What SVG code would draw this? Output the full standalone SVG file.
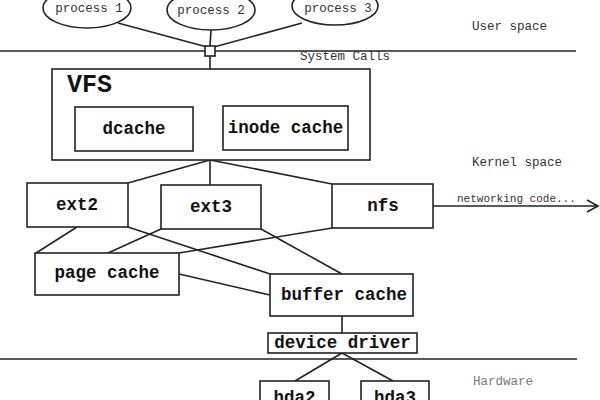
<svg xmlns="http://www.w3.org/2000/svg" width="600" height="400" viewBox="0 0 600 400">
<style>
  .box { fill: #fff; stroke: #222; stroke-width: 1.6; }
  .ell { fill: #fff; stroke: #222; stroke-width: 1.6; }
  .ln { stroke: #222; stroke-width: 1.6; fill: none; }
  .lbl { font-family: "Liberation Mono", "Courier New", monospace; font-weight: bold; font-size: 17.5px; fill: #111; text-anchor: middle; }
  .sm { font-family: "Liberation Mono", "Courier New", monospace; font-size: 12.5px; fill: #333; }
  .pl { font-family: "Liberation Mono", "Courier New", monospace; font-size: 12.5px; fill: #333; text-anchor: middle; }
</style>
<defs>
  <marker id="open" markerWidth="14" markerHeight="14" refX="12" refY="7" orient="auto" markerUnits="userSpaceOnUse">
    <path d="M1,1 L12,7 L1,13" fill="none" stroke="#222" stroke-width="1.6"/>
  </marker>
</defs>
<rect width="600" height="400" fill="#fff"/>

<!-- layer lines and labels -->
<line class="ln" x1="0" y1="51" x2="576" y2="51"/>
<line class="ln" x1="0" y1="359" x2="577" y2="359"/>
<text class="sm" x="472" y="30">User space</text>
<text class="sm" x="300" y="60">System Calls</text>
<text class="sm" x="472" y="166">Kernel space</text>
<text class="sm" x="473" y="385" fill="#777" style="fill:#777">Hardware</text>

<g id="connectors">
  <line class="ln" x1="118" y1="23" x2="207" y2="47"/>
  <line class="ln" x1="211" y1="30" x2="210" y2="46"/>
  <line class="ln" x1="302" y1="23" x2="214" y2="47"/>
  <line class="ln" x1="210" y1="56" x2="210" y2="69"/>
  <line class="ln" x1="210" y1="160" x2="128" y2="183"/>
  <line class="ln" x1="210" y1="160" x2="210" y2="185"/>
  <line class="ln" x1="210" y1="160" x2="332" y2="184"/>
  <line class="ln" x1="77" y1="227" x2="36" y2="253"/>
  <line class="ln" x1="128" y1="227" x2="270" y2="274"/>
  <line class="ln" x1="161" y1="229" x2="108" y2="253"/>
  <line class="ln" x1="261" y1="229" x2="342" y2="274"/>
  <line class="ln" x1="332" y1="228" x2="179" y2="253"/>
  <line class="ln" x1="179" y1="274" x2="270" y2="295"/>
  <line class="ln" x1="342" y1="316" x2="342" y2="333"/>
  <line class="ln" x1="342" y1="353" x2="295" y2="381"/>
  <line class="ln" x1="342" y1="353" x2="393" y2="381"/>
  <line class="ln" x1="433" y1="206" x2="598" y2="206" marker-end="url(#open)"/>
  <text x="457" y="202" style="font-family:'Liberation Mono','Courier New',monospace;font-size:11px;fill:#333">networking code...</text>
</g>

<g id="process1">
  <ellipse class="ell" cx="87" cy="8" rx="44" ry="20"/>
  <text class="pl" x="89" y="12">process 1</text>
</g>
<g id="process2">
  <ellipse class="ell" cx="211" cy="10" rx="44" ry="20"/>
  <text class="pl" x="211" y="14">process 2</text>
</g>
<g id="process3">
  <ellipse class="ell" cx="335" cy="6" rx="43" ry="19"/>
  <text class="pl" x="338" y="12">process 3</text>
</g>
<g id="syscall">
  <rect class="box" x="205" y="46" width="10" height="10"/>
</g>

<g id="vfs">
  <rect class="box" x="52" y="69" width="318" height="91"/>
  <text x="67" y="92" style="font-family:'Liberation Mono','Courier New',monospace;font-weight:bold;font-size:25px;fill:#111">VFS</text>
</g>
<g id="dcache">
  <rect class="box" x="75" y="107" width="118" height="44"/>
  <text class="lbl" x="134" y="134">dcache</text>
</g>
<g id="inodecache">
  <rect class="box" x="223" y="106" width="125" height="44"/>
  <text class="lbl" x="285.5" y="133">inode cache</text>
</g>
<g id="ext2">
  <rect class="box" x="27" y="183" width="101" height="44"/>
  <text class="lbl" x="77" y="210">ext2</text>
</g>
<g id="ext3">
  <rect class="box" x="161" y="185" width="100" height="44"/>
  <text class="lbl" x="211" y="212">ext3</text>
</g>
<g id="nfs">
  <rect class="box" x="332" y="184" width="101" height="44"/>
  <text class="lbl" x="383" y="211">nfs</text>
</g>
<g id="pagecache">
  <rect class="box" x="35" y="253" width="144" height="42"/>
  <text class="lbl" x="107" y="278">page cache</text>
</g>
<g id="buffercache">
  <rect class="box" x="270" y="274" width="143" height="42"/>
  <text class="lbl" x="344" y="300">buffer cache</text>
</g>
<g id="devicedriver">
  <rect class="box" x="268" y="333" width="149" height="20"/>
  <text class="lbl" x="342.5" y="348">device driver</text>
</g>
<g id="hda2">
  <rect class="box" x="260" y="381" width="69" height="30"/>
  <text class="lbl" x="294.5" y="403">hda2</text>
</g>
<g id="hda3">
  <rect class="box" x="361" y="381" width="68" height="30"/>
  <text class="lbl" x="395" y="403">hda3</text>
</g>
</svg>
